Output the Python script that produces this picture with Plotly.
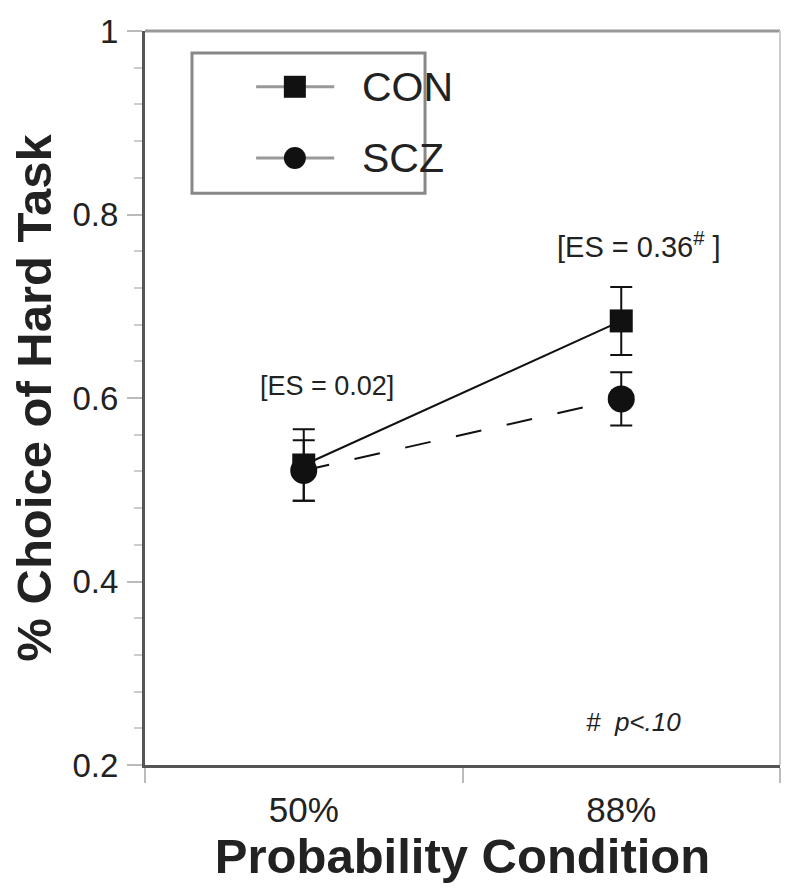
import plotly.graph_objects as go

# ---- data ----
conditions = ["50%", "88%"]
con_mean = [0.527, 0.684]
con_se = [0.039, 0.037]
scz_mean = [0.521, 0.599]
scz_se = [0.033, 0.029]
y_ticks = [0.2, 0.4, 0.6, 0.8, 1.0]
y_ticktext = ["0.2", "0.4", "0.6", "0.8", "1"]

FONT = "Liberation Sans, Arial, Helvetica, sans-serif"
TXT = "#222222"

fig = go.Figure()

fig.add_trace(go.Scatter(
    x=conditions, y=scz_mean, name="SCZ", mode="lines+markers",
    line=dict(color="#111111", width=2, dash="26px,26px"),
    marker=dict(symbol="circle", size=27, color="#111111"),
    error_y=dict(type="data", array=scz_se, color="#111111", thickness=2, width=11),
    showlegend=False,
))
fig.add_trace(go.Scatter(
    x=conditions, y=con_mean, name="CON", mode="lines+markers",
    line=dict(color="#111111", width=2),
    marker=dict(symbol="square", size=23, color="#111111"),
    error_y=dict(type="data", array=con_se, color="#111111", thickness=2, width=11),
    showlegend=False,
))

# ---- manual legend (box, sample lines, markers, labels) ----
shapes = []
shapes.append(dict(type="rect", xref="paper", yref="paper", x0=0.074, x1=0.441,
                   y0=0.779, y1=0.970, line=dict(color="#888888", width=3),
                   fillcolor="rgba(0,0,0,0)"))
leg_rows = [("CON", 0.924, "square"), ("SCZ", 0.827, "circle")]
for name, yy, sym in leg_rows:
    shapes.append(dict(type="line", xref="paper", yref="paper", x0=0.175, x1=0.298,
                       y0=yy, y1=yy, line=dict(color="#999999", width=3)))
    shapes.append(dict(type="rect" if sym == "square" else "circle",
                       xref="paper", yref="paper",
                       xsizemode="pixel", ysizemode="pixel",
                       xanchor=0.236, yanchor=yy, x0=-11, x1=11, y0=-11, y1=11,
                       fillcolor="#111111", line=dict(width=0)))

# frame: top and right borders
shapes.append(dict(type="line", xref="paper", yref="paper", x0=0, x1=1, y0=1, y1=1,
                   line=dict(color="#999999", width=3)))
shapes.append(dict(type="line", xref="paper", yref="paper", x0=1, x1=1, y0=0, y1=1,
                   line=dict(color="#cccccc", width=2)))

annotations = []
for name, yy, sym in leg_rows:
    annotations.append(dict(text=name, xref="paper", yref="paper", x=0.339, y=yy,
                            xanchor="left", yanchor="middle", showarrow=False,
                            font=dict(family=FONT, size=41, color=TXT)))
annotations.append(dict(text="[ES = 0.02]", xref="paper", yref="paper", x=0.287, y=0.517,
                        xanchor="center", yanchor="middle", showarrow=False,
                        font=dict(family=FONT, size=27, color=TXT)))
annotations.append(dict(text="[ES = 0.36<sup>#</sup>&nbsp;]", xref="paper",
                        yref="paper", x=0.778, y=0.708, xanchor="center",
                        yanchor="middle", showarrow=False,
                        font=dict(family=FONT, size=29, color=TXT)))
annotations.append(dict(text="<i>#  p&lt;.10</i>", xref="paper", yref="paper",
                        x=0.770, y=0.0586, xanchor="center", yanchor="middle",
                        showarrow=False, font=dict(family=FONT, size=26, color=TXT)))

fig.update_layout(
    width=800, height=895,
    margin=dict(l=145, r=20, t=31, b=130),
    paper_bgcolor="white", plot_bgcolor="white",
    font=dict(family=FONT, color=TXT),
    shapes=shapes, annotations=annotations,
    showlegend=False,
    xaxis=dict(
        type="category", range=[-0.5, 1.5], tickson="boundaries",
        ticks="outside", ticklen=15, tickwidth=2, tickcolor="#bbbbbb",
        ticklabelstandoff=12,
        showgrid=False, zeroline=False,
        showline=True, linecolor="#555555", linewidth=3,
        tickfont=dict(family=FONT, size=35, color=TXT),
        title=dict(text="<b>Probability Condition</b>",
                   font=dict(family=FONT, size=49, color=TXT), standoff=0),
    ),
    yaxis=dict(
        range=[0.2, 1.0], tickvals=y_ticks, ticktext=y_ticktext,
        ticks="outside", ticklen=15, tickwidth=2, tickcolor="#bbbbbb",
        ticklabelstandoff=2,
        minor=dict(dtick=0.04, tick0=0.2, ticks="outside", ticklen=8,
                   tickwidth=1.5, tickcolor="#cccccc", showgrid=False),
        showgrid=False, zeroline=False,
        showline=True, linecolor="#555555", linewidth=3,
        tickfont=dict(family=FONT, size=33, color=TXT),
        title=dict(text="<b>% Choice of Hard Task</b>",
                   font=dict(family=FONT, size=49, color=TXT), standoff=6),
    ),
)

fig.write_html("out.html", config={"displayModeBar": False},
               post_script="document.body.style.margin='0';document.body.style.overflow='hidden';")
